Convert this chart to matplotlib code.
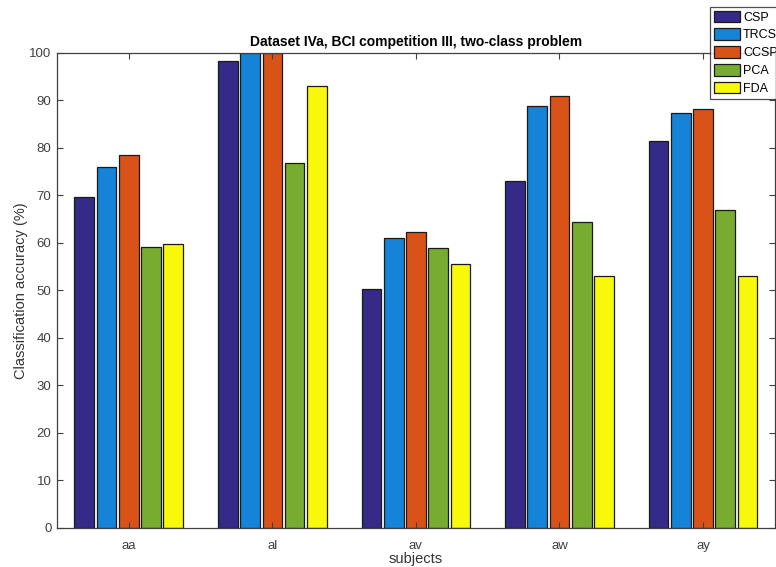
import numpy as np
import matplotlib.pyplot as plt

plt.rcParams['font.family'] = ['Liberation Sans', 'DejaVu Sans']

subjects = ["aa", "al", "av", "aw", "ay"]
methods = ["CSP", "TRCSP", "CCSP", "PCA", "FDA"]
csp = [69.7, 98.2, 50.2, 73.0, 81.5]
trcsp = [75.9, 100.0, 61.0, 88.8, 87.4]
ccsp = [78.5, 100.0, 62.2, 90.9, 88.1]
pca = [59.1, 76.8, 59.0, 64.3, 66.9]
fda = [59.8, 92.9, 55.6, 53.0, 53.0]

colors = ["#352a87", "#1584d8", "#d95319", "#77ac30", "#f8f80a"]

fig = plt.figure(figsize=(7.76, 5.67), dpi=100)
ax = fig.add_axes([0.0735, 0.069, 0.925, 0.838])

x = np.arange(1, len(subjects) + 1)
step = 0.155
width = 0.137
for i, (vals, name) in enumerate(zip([csp, trcsp, ccsp, pca, fda], methods)):
    ax.bar(x + (i - 2) * step, vals, width, color=colors[i], edgecolor="#1a1a1a",
           linewidth=0.9, label=name)

ax.set_xlim(0.5, 5.5)
ax.set_ylim(0, 100)
ax.set_xticks(x)
ax.set_xticklabels(subjects)
ax.set_yticks(range(0, 101, 10))
ax.tick_params(direction="in", top=True, right=True, length=4, width=0.8,
               labelsize=9.5, colors="#404040", labelcolor="#404040")
ax.tick_params(axis="x", pad=9)
ax.tick_params(axis="y", pad=4)
for s in ax.spines.values():
    s.set_color("#404040")
    s.set_linewidth(0.9)

ax.set_title("Dataset IVa, BCI competition III, two-class problem",
             fontsize=10, fontweight="bold", pad=5)
ax.set_xlabel("subjects", fontsize=10.5, color="#333333", labelpad=0)
ax.set_ylabel("Classification accuracy (%)", fontsize=10.5, color="#333333", labelpad=1)

leg = fig.legend(loc="upper left", bbox_to_anchor=(0.915, 0.988), fontsize=9,
                 frameon=True, fancybox=False, handlelength=2.1, handleheight=1.05,
                 handletextpad=0.25, labelspacing=0.38, borderpad=0.3,
                 borderaxespad=0)
leg.get_frame().set_edgecolor("#222222")
leg.get_frame().set_linewidth(0.9)
for h in leg.legend_handles:
    h.set_edgecolor("#1a1a1a")

fig.savefig("out.png", dpi=100)
